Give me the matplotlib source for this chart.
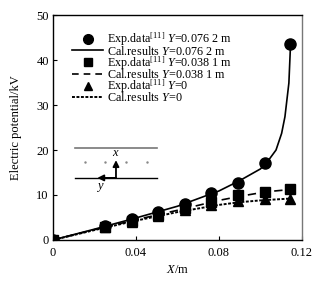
import numpy as np
import matplotlib
matplotlib.use("Agg")
import matplotlib.pyplot as plt
from matplotlib.lines import Line2D

plt.rcParams.update({
    "font.family": "Liberation Serif",
    "font.size": 9,
    "mathtext.fontset": "custom",
    "mathtext.rm": "Liberation Serif",
    "mathtext.it": "Liberation Serif:italic",
})

# experimental points
x_exp = [0, 0.025, 0.038, 0.0505, 0.0635, 0.076, 0.089, 0.1022, 0.114]
v_exp_076 = [0, 3.0, 4.6, 6.2, 8.1, 10.4, 12.7, 17.2, 43.5]
v_exp_038 = [0, 2.9, 4.3, 5.5, 7.0, 8.5, 10.0, 10.7, 11.3]
v_exp_0 = [0, 2.8, 4.1, 5.3, 6.6, 7.8, 8.7, 9.0, 9.2]

# calculated curves
x_cal_076 = [0, 0.02, 0.04, 0.06, 0.08, 0.09, 0.1, 0.104, 0.1075, 0.1102, 0.1118, 0.1137, 0.1145]
v_cal_076 = [0, 2.4, 4.9, 7.5, 10.9, 13.2, 15.8, 17.8, 20.0, 23.7, 27.4, 34.9, 43.5]
x_cal = [0, 0.02, 0.04, 0.06, 0.08, 0.09, 0.1, 0.107, 0.114]
v_cal_038 = [0, 2.3, 4.5, 6.6, 8.8, 9.7, 10.5, 10.9, 11.2]
v_cal_0 = [0, 2.2, 4.3, 6.2, 7.8, 8.4, 8.8, 9.0, 9.2]

fig = plt.figure(figsize=(3.2, 2.85), dpi=100)
ax = fig.add_axes([0.1656, 0.158, 0.778, 0.789])

ax.plot(x_exp, v_exp_076, "o", color="black", ms=8, zorder=3)
ax.plot(x_cal_076, v_cal_076, "-", color="black", lw=1.2)
ax.plot(x_exp, v_exp_038, "s", color="black", ms=6.5, zorder=3)
ax.plot(x_cal, v_cal_038, "--", color="black", lw=1.2, dashes=(5, 3))
ax.plot(x_exp, v_exp_0, "^", color="black", ms=6.5, zorder=3)
ax.plot(x_cal, v_cal_0, ":", color="black", lw=1.4, dashes=(1.5, 0.8))

ax.set_xlim(0, 0.12)
ax.set_ylim(0, 50)
ax.set_xticks([0, 0.04, 0.08, 0.12])
ax.set_xticklabels(["0", "0.04", "0.08", "0.12"])
ax.set_yticks([0, 10, 20, 30, 40, 50])
ax.tick_params(direction="in", length=3, width=0.8)
ax.tick_params(axis="x", pad=5)
ax.tick_params(axis="y", pad=3)
ax.set_xlabel("$X$/m", labelpad=4)
ax.set_ylabel("Electric potential/kV", labelpad=10)
for s in ax.spines.values():
    s.set_linewidth(1.0)
ax.spines["right"].set_color("#777777")

handles = [
    Line2D([], [], ls="none", marker="o", color="black", ms=7),
    Line2D([], [], ls="-", color="black", lw=1.2),
    Line2D([], [], ls="none", marker="s", color="black", ms=6),
    Line2D([], [], ls="--", color="black", lw=1.2, dashes=(4, 3)),
    Line2D([], [], ls="none", marker="^", color="black", ms=6),
    Line2D([], [], ls=":", color="black", lw=1.4, dashes=(1.5, 0.8)),
]
labels = [
    r"Exp.data$^{\mathrm{[11]}}$ $Y$=0.076 2 m",
    r"Cal.results $Y$=0.076 2 m",
    r"Exp.data$^{\mathrm{[11]}}$ $Y$=0.038 1 m",
    r"Cal.results $Y$=0.038 1 m",
    r"Exp.data$^{\mathrm{[11]}}$ $Y$=0",
    r"Cal.results $Y$=0",
]
ax.legend(handles, labels, loc="upper left", bbox_to_anchor=(0.076, 0.93),
          frameon=False, borderpad=0, borderaxespad=0, labelspacing=-0.3,
          handlelength=2.6, handletextpad=0.3, fontsize=8.7)

# coordinate sketch
t = ax.transAxes
ax.plot([0.088, 0.418], [0.409, 0.409], color="#777777", lw=1.2, transform=t)
ax.plot([0.088, 0.418], [0.276, 0.276], color="black", lw=1.0, transform=t)
ax.plot([0.128, 0.209, 0.293, 0.378], [0.347] * 4, ".", color="#888888", ms=1.5,
        transform=t)
ax.annotate("", xy=(0.253, 0.355), xytext=(0.253, 0.276), xycoords=t, textcoords=t,
            arrowprops=dict(arrowstyle="-|>", color="black", lw=1.3,
                            mutation_scale=9, shrinkA=0, shrinkB=0))
ax.annotate("", xy=(0.178, 0.276), xytext=(0.253, 0.276), xycoords=t, textcoords=t,
            arrowprops=dict(arrowstyle="-|>", color="black", lw=1.3,
                            mutation_scale=9, shrinkA=0, shrinkB=0))
ax.text(0.253, 0.385, "$x$", transform=t, ha="center", va="center", fontsize=9)
ax.text(0.19, 0.235, "$y$", transform=t, ha="center", va="center", fontsize=9)

fig.savefig("out.png", dpi=100)
